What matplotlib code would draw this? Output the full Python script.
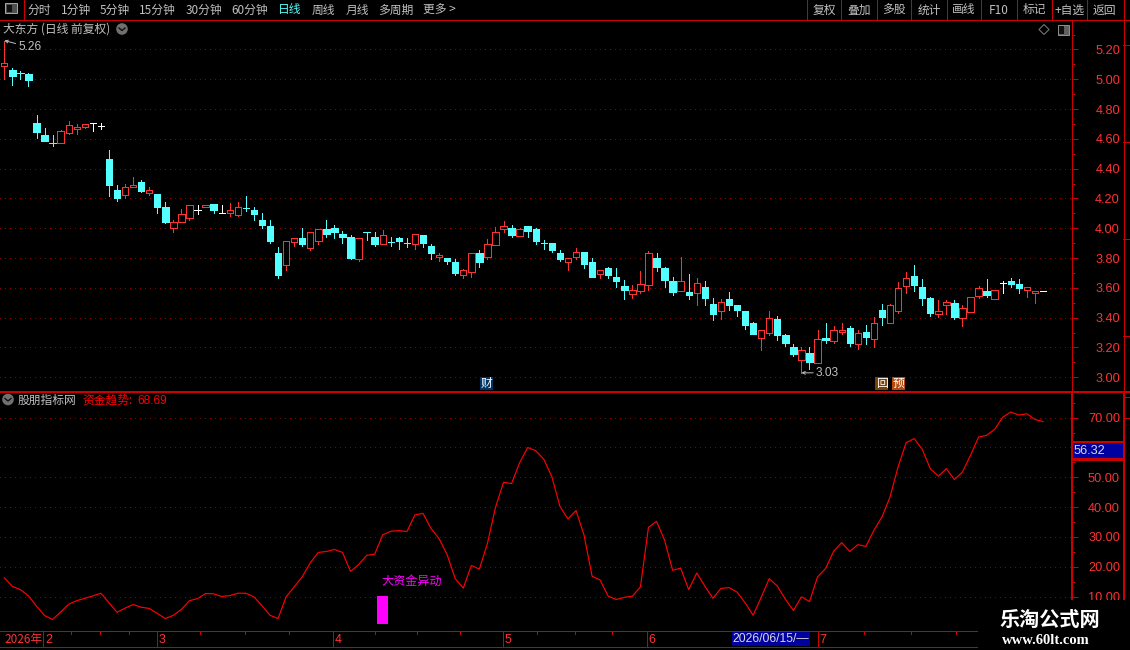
import matplotlib
matplotlib.use("Agg")
import matplotlib.pyplot as plt
from matplotlib.patches import Rectangle, Circle, Polygon
from matplotlib.ticker import FixedLocator

plt.rcParams['font.family'] = ['Noto Sans CJK SC', 'DejaVu Sans']

opens = [5.09,5.06,5.042,5.035,4.705,4.625,4.58,4.57,4.64,4.667,4.68,4.708,4.688,4.464,4.26,4.225,4.28,4.31,4.235,4.23,
 4.14,4.00,4.04,4.07,4.125,4.14,4.16,4.10,4.10,4.09,4.142,4.12,4.055,4.016,3.836,3.756,3.911,3.936,3.869,3.918,
 3.996,4.00,3.962,3.942,3.796,3.982,3.942,3.896,3.915,3.935,3.906,3.897,3.955,3.88,3.81,3.80,3.775,3.687,3.71,3.834,
 3.808,3.888,3.995,4.00,3.95,4.015,3.995,3.906,3.90,3.835,3.776,3.808,3.84,3.775,3.696,3.734,3.673,3.613,3.56,3.58,
 3.62,3.80,3.734,3.647,3.58,3.573,3.566,3.606,3.492,3.445,3.526,3.485,3.445,3.362,3.264,3.298,3.389,3.282,3.202,3.118,
 3.162,3.098,3.262,3.242,3.302,3.329,3.222,3.302,3.258,3.449,3.364,3.442,3.616,3.682,3.609,3.529,3.424,3.484,3.502,3.398,
 3.438,3.544,3.582,3.524,3.631,3.649,3.629,3.584,3.564,3.58]
highs = [5.26,5.075,5.057,5.04,4.76,4.67,4.625,4.66,4.72,4.70,4.70,4.708,4.705,4.525,4.29,4.295,4.345,4.325,4.275,4.23,
 4.175,4.055,4.13,4.155,4.155,4.155,4.16,4.155,4.17,4.175,4.215,4.14,4.10,4.055,3.876,3.916,3.936,4.00,3.976,3.996,
 4.056,4.022,3.982,3.956,3.936,3.982,3.976,3.989,3.94,3.94,3.935,3.965,3.955,3.895,3.835,3.80,3.795,3.727,3.832,3.855,
 3.928,4.01,4.05,4.02,4.00,4.015,4.00,3.92,3.90,3.855,3.80,3.868,3.84,3.80,3.718,3.74,3.734,3.653,3.62,3.714,
 3.848,3.834,3.74,3.673,3.808,3.694,3.667,3.647,3.532,3.526,3.573,3.485,3.445,3.37,3.32,3.442,3.409,3.289,3.222,3.202,
 3.202,3.316,3.362,3.342,3.362,3.342,3.316,3.349,3.402,3.489,3.493,3.642,3.709,3.756,3.662,3.542,3.516,3.516,3.522,3.482,
 3.54,3.616,3.662,3.587,3.649,3.669,3.662,3.607,3.582,3.58]
lows = [5.00,4.96,5.00,4.955,4.605,4.585,4.55,4.57,4.635,4.63,4.675,4.655,4.668,4.22,4.18,4.20,4.28,4.245,4.225,4.10,
 4.035,3.975,4.04,4.055,4.095,4.14,4.10,4.10,4.08,4.08,4.115,4.055,4.00,3.902,3.669,3.722,3.882,3.882,3.856,3.896,
 3.942,3.936,3.902,3.796,3.782,3.922,3.882,3.896,3.88,3.86,3.875,3.86,3.875,3.795,3.78,3.76,3.687,3.667,3.673,3.74,
 3.794,3.888,3.975,3.94,3.95,3.94,3.895,3.86,3.84,3.78,3.72,3.794,3.734,3.673,3.667,3.667,3.606,3.526,3.532,3.566,
 3.586,3.714,3.606,3.553,3.58,3.526,3.485,3.485,3.385,3.39,3.452,3.412,3.324,3.289,3.182,3.282,3.249,3.209,3.142,3.027,
 3.056,3.098,3.229,3.229,3.289,3.209,3.189,3.222,3.202,3.349,3.364,3.429,3.569,3.582,3.482,3.409,3.402,3.422,3.389,3.342,
 3.438,3.529,3.542,3.524,3.569,3.609,3.569,3.542,3.502,3.58]
closes = [5.11,5.02,5.04,4.995,4.645,4.585,4.575,4.65,4.69,4.683,4.70,4.708,4.688,4.29,4.20,4.28,4.29,4.25,4.26,4.14,
 4.04,4.04,4.095,4.155,4.125,4.155,4.125,4.10,4.12,4.14,4.138,4.095,4.022,3.916,3.689,3.916,3.936,3.896,3.976,3.996,
 3.962,3.976,3.942,3.802,3.936,3.978,3.896,3.953,3.911,3.915,3.902,3.96,3.90,3.835,3.82,3.78,3.70,3.718,3.832,3.774,
 3.893,3.973,4.013,3.955,3.993,3.98,3.915,3.902,3.855,3.795,3.80,3.84,3.76,3.673,3.718,3.687,3.647,3.586,3.584,3.624,
 3.832,3.74,3.653,3.573,3.644,3.553,3.63,3.532,3.425,3.503,3.485,3.452,3.351,3.289,3.32,3.40,3.282,3.229,3.156,3.18,
 3.102,3.26,3.249,3.32,3.32,3.229,3.30,3.269,3.367,3.402,3.487,3.60,3.667,3.622,3.529,3.429,3.447,3.507,3.402,3.467,
 3.54,3.60,3.549,3.587,3.631,3.629,3.602,3.607,3.582,3.58]
trend = [16.3,13.4,12.3,10.2,6.8,3.6,2.3,4.8,7.4,8.6,9.4,10.2,11.1,7.9,4.7,6.1,7.3,6.4,6.0,4.3,
 2.6,3.7,5.7,8.6,9.3,11.0,10.9,10.0,10.3,11.1,11.1,9.9,6.9,3.7,2.6,9.9,13.2,16.6,21.3,24.8,
 25.1,25.8,24.8,18.4,20.7,23.8,24.2,30.7,31.9,32.1,31.8,37.4,37.9,32.8,29.4,24.0,16.0,12.8,20.4,19.2,
 27.8,39.9,48.3,47.9,54.9,60.0,58.9,56.1,50.2,40.3,36.0,38.9,30.6,16.8,15.5,10.1,9.0,9.7,10.1,13.2,
 33.2,35.2,28.9,18.8,19.5,12.3,17.9,13.5,9.4,12.7,13.0,11.5,7.9,3.7,9.7,16.0,13.5,9.1,5.3,9.9,
 8.3,16.6,19.4,25.2,28.1,25.1,27.4,26.8,32.2,36.7,43.4,53.5,61.6,63.0,59.4,52.9,50.4,52.9,49.2,51.8,
 57.4,63.5,64.1,66.1,70.2,71.9,70.9,71.3,69.4,68.69]
signal_index = [47]
signal_low = [0.7]
signal_high = [10.0]
price_ticks = [3.00,3.20,3.40,3.60,3.80,4.00,4.20,4.40,4.60,4.80,5.00,5.20]
trend_ticks = [10,20,30,40,50,60,70]
trend_labels = ['10.00','20.00','30.00','40.00','50.00','','70.00']
month_pos = [19,40.8,61.9,79.8,101]
month_labels = ['3','4','5','6','7']
date_minor = [8.3,11.9,15.5,24.3,29.9,35.4,46,51.3,56.6,66.2,70.9,75.5,106.8,112.6,118.2]
toolbar_left = [('分时',39.5),('1分钟',76),('5分钟',115),('15分钟',157.5),('30分钟',203.5),('60分钟',249.5),('日线',290),('周线',323.5),('月线',357.5),('多周期',396),('更多 >',439)]
toolbar_right = ['复权','叠加','多股','统计','画线','F10','标记','+自选','返回']
button_edges = [807.3,841.3,876.7,911.3,946.7,981.3,1016.7,1051.7,1086.7,1122.7]

assert len(opens)==len(highs)==len(lows)==len(closes)==len(trend)==130

W,H = 1130,650
PX = 0.72
RED='#ff3232'; AXIS='#cc0000'; CYAN='#54ffff'; GRID='#8c0000'; GREY='#c0c0c0'
fig = plt.figure(figsize=(W/100,H/100),dpi=100,facecolor='black')
def box(l,t,r,b): return [l/W,1-b/H,(r-l)/W,(b-t)/H]

X0,STEP = 4.3,8.052
xlim = (-X0/STEP,(1072-X0)/STEP)
dots=(0,(1,4.2))

ax1 = fig.add_axes(box(0,20,1072,391),facecolor='black')
ax2 = fig.add_axes(box(0,393,1072,631),facecolor='black')
ax3 = fig.add_axes(box(0,631,1072,646.5),facecolor='black')
for ax in (ax1,ax2,ax3):
    ax.set_xlim(*xlim)
    ax.set_xticks([])
    for s in ('top','left','bottom'): ax.spines[s].set_visible(False)
    ax.spines['right'].set_color(AXIS)
ax1.spines['right'].set_linewidth(PX)
ax2.spines['right'].set_linewidth(2*PX)

ax1.set_ylim(5.20-(391-49.5)/149.0,5.20+(49.5-20)/149.0)
ax2.set_ylim(10-(631-596.5)/2.98,70+(417.7-393)/2.98)
ax3.set_ylim(0,1)
ax3.set_yticks([])
ax3.spines['right'].set_visible(False)

for ax,ticks,labels,minor in ((ax1,price_ticks,['{:.2f}'.format(t) for t in price_ticks],[t+0.1 for t in price_ticks]),
                              (ax2,trend_ticks,trend_labels,[t+5 for t in trend_ticks])):
    ax.yaxis.tick_right()
    ax.set_yticks(ticks)
    ax.set_yticklabels(labels,family='Liberation Sans',fontsize=9.2,color=RED,ha='right')
    ax.yaxis.set_minor_locator(FixedLocator(minor))
    ax.tick_params(axis='y',which='major',length=4,width=PX,color=AXIS,pad=30.5)
    ax.tick_params(axis='y',which='minor',length=2,width=PX,color=AXIS)
    for t in ticks:
        ax.axhline(t,color=GRID,lw=PX,ls=dots,zorder=1,antialiased=False)

# candles
w = 6.4/STEP
for i,(o,h,l,c) in enumerate(zip(opens,highs,lows,closes)):
    col = RED if c>o else (CYAN if c<o else 'white')
    top,bot = max(o,c),min(o,c)
    ax1.vlines(i,top,h,color=col,lw=PX,zorder=3,antialiased=False)
    ax1.vlines(i,l,bot,color=col,lw=PX,zorder=3,antialiased=False)
    if top-bot<0.008:
        ax1.hlines(c,i-w/2,i+w/2,color=col,lw=PX,zorder=4,antialiased=False)
    else:
        ax1.bar(i,top-bot,w,bottom=bot,facecolor='black' if c>o else col,edgecolor=col,lw=PX,zorder=4,antialiased=False)

# price extremes
ax1.annotate('5.26',xy=(0,5.26),xytext=(1.75,5.215),color=GREY,fontsize=8.6,family='Liberation Sans',va='center',
             arrowprops=dict(arrowstyle='->',color=GREY,lw=0.7,shrinkA=0,shrinkB=0,mutation_scale=5))
ax1.annotate('3.03',xy=(99,3.03),xytext=(100.8,3.03),color=GREY,fontsize=8.6,family='Liberation Sans',va='center',
             arrowprops=dict(arrowstyle='->',color=GREY,lw=0.7,shrinkA=0,shrinkB=0,mutation_scale=5))

# indicator
ax2.plot(range(len(trend)),trend,color='#ff0000',lw=0.85,zorder=3)
ax2.bar(signal_index,[h-l for h,l in zip(signal_high,signal_low)],10.5/STEP,bottom=signal_low,color='#ff00ff',zorder=4,antialiased=False)
ax2.text(signal_index[0]-0.15,15.0,'大资金异动',color='#ff00ff',fontsize=8.7,va='center',ha='left',zorder=5)

# date axis
ax3.vlines(month_pos,0,1,color=AXIS,lw=PX,antialiased=False)
ax3.vlines(4.8,0,1,color=AXIS,lw=PX,antialiased=False)
ax3.vlines(date_minor,0.78,1,color=AXIS,lw=PX,antialiased=False)
ax3.text(0.05,0.45,'2026年',color=RED,fontsize=8.5,va='center')
ax3.text(5.05,0.45,'2',color=RED,fontsize=9,family='Liberation Sans',va='center')
for p,t in zip(month_pos,month_labels):
    ax3.text(p+0.2,0.45,t,color=RED,fontsize=9,family='Liberation Sans',va='center')

# chrome overlay in pixel coordinates
ch = fig.add_axes([0,0,1,1],facecolor='none')
ch.set_xlim(0,W); ch.set_ylim(H,0); ch.axis('off')
def hl(y,x0=0,x1=W,lw=PX,c=AXIS): ch.plot([x0,x1],[y,y],color=c,lw=lw,antialiased=False,solid_capstyle='butt')
def vl(x,y0,y1,lw=PX,c=AXIS): ch.plot([x,x],[y0,y1],color=c,lw=lw,antialiased=False,solid_capstyle='butt')
hl(19.5)
vl(23.5,0,19)
ch.add_patch(Rectangle((5,3),12,10,fc='#505050',ec='#a8a8a8',lw=0.7))
ch.add_patch(Rectangle((6.5,4.5),5,7,fc='#101010',ec='none'))
for t,x in toolbar_left:
    ch.text(x,13.5,t,color=CYAN if t=='日线' else GREY,fontsize=8.5,ha='center',va='baseline')
for i,t in enumerate(toolbar_right):
    vl(button_edges[i],0,19)
    ch.text((button_edges[i]+button_edges[i+1])/2,13.5,t,color=GREY,fontsize=8.5,ha='center',va='baseline')
ch.text(3,33,'大东方 (日线 前复权)',color=GREY,fontsize=8.5,va='baseline')
def badge(x,y):
    ch.add_patch(Circle((x,y),5.8,fc='#707070',ec='none'))
    ch.plot([x-3,x,x+3],[y-1,y+1.5,y-1],color='#101010',lw=1.0)
badge(122,29); badge(8,399.5)
ch.add_patch(Polygon([(1044,24.5),(1049,29.5),(1044,34.5),(1039,29.5)],closed=True,fc='none',ec='#808080',lw=0.7))
ch.add_patch(Rectangle((1057.5,24.5),11,10,fc='#606060',ec='#909090',lw=0.7))
ch.add_patch(Rectangle((1058.5,25.5),5,8,fc='#101010',ec='none'))

# panel dividers
hl(391.5,lw=2*PX)
vl(1123.5,0,600,lw=PX)
vl(1123.5,391,600,lw=2*PX)
for y in (45,142,239,336,397,418): hl(y,1123,W)
ch.add_patch(Rectangle((1073,442.5),49.5,15.5,fc='#0000a0',ec='none',zorder=3))
hl(442,1072,1123,lw=1.4*PX); hl(458.5,1072,1123,lw=1.4*PX)
ch.text(1074,450.5,'56.32',color='#d8d8d8',fontsize=9.2,family='Liberation Sans',va='center',zorder=4)

# panel title
ch.text(18,403.5,'股朋指标网',color=GREY,fontsize=8.5,va='baseline')
ch.text(82,403.5,'资金趋势:',color='#ff0000',fontsize=8.5,va='baseline')
ch.text(137,403.5,'68.69',color='#ff0000',fontsize=8.6,family='Liberation Sans',va='baseline')

# markers
for x,t,bg in ((486.5,'财','#003366'),(881.5,'回','#7a4200'),(898.5,'预','#b04a10')):
    ch.add_patch(Rectangle((x-6.5,377),13,13,fc=bg,ec='none'))
    ch.text(x,383.3,t,color='white',fontsize=8.5,ha='center',va='center')

# date cursor
hl(631,0,W); hl(646.5,0,W)
ch.add_patch(Rectangle((732,631.5),78,14.5,fc='#0000a0',ec='none',zorder=3))
ch.text(771,639,'2026/06/15/—',color='#d8d8d8',fontsize=8.8,family='Liberation Sans',ha='center',va='center',zorder=4)

# watermark
ch.add_patch(Rectangle((978,600),W-978,50,fc='black',ec='none',zorder=6))
ch.text(1050,619,'乐淘公式网',color='white',fontsize=14.5,weight='bold',ha='center',va='center',zorder=7)
ch.text(1046,640,'www.60lt.com',color='white',fontsize=10.5,weight='bold',family='Liberation Serif',ha='center',va='center',zorder=7)

fig.savefig('out.png',dpi=100,facecolor='black')
